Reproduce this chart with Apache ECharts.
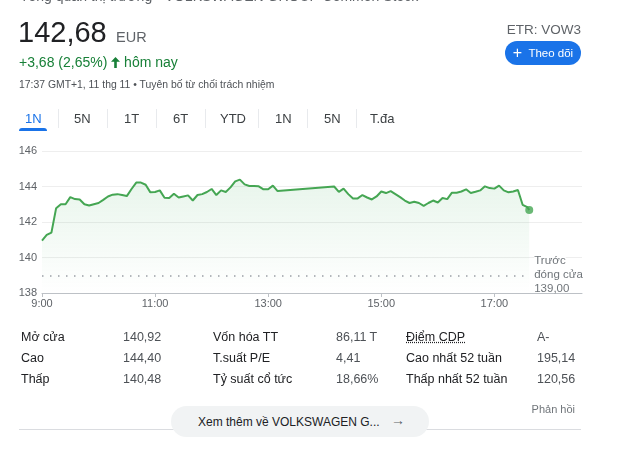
<!DOCTYPE html>
<html><head><meta charset="utf-8">
<script src="https://cdn.jsdelivr.net/npm/echarts@6/dist/echarts.min.js"></script>
<style>
html,body{margin:0;padding:0;background:#fff;width:640px;height:450px;overflow:hidden;font-family:"Liberation Sans",Arial,sans-serif;}
#chart{position:absolute;left:0;top:0;width:640px;height:450px;}
.t{position:absolute;white-space:nowrap;line-height:1;}
</style></head><body>
<div id="chart"></div>
<div class="t" style="left:20px;top:-11px;font-size:14px;color:#5f6368;">Tổng quan thị trường › VOLKSWAGEN GROUP Common Stock</div>
<div class="t" style="left:18px;top:18px;font-size:29px;color:#202124;">142,68</div>
<div class="t" style="left:116px;top:30px;font-size:14.5px;color:#5f6368;">EUR</div>
<div class="t" style="left:19px;top:55px;font-size:14px;color:#188038;">+3,68 (2,65%) <svg width="9" height="11" viewBox="0 0 9 11" style="vertical-align:-1px"><path d="M4.5 0 L9 4.8 L5.8 4.8 L5.8 11 L3.2 11 L3.2 4.8 L0 4.8 Z" fill="#188038"/></svg> hôm nay</div>
<div class="t" style="left:19px;top:80px;font-size:10.4px;color:#4d5156;">17:37 GMT+1, 11 thg 11 • Tuyên bố từ chối trách nhiệm</div>
<div class="t" style="right:59px;top:23px;font-size:13.5px;color:#5f6368;">ETR: VOW3</div>
<div class="t" style="left:505px;top:41px;width:76px;height:24px;border-radius:12px;background:#1a73e8;color:#fff;font-size:11.5px;line-height:24px;text-align:center;"><span style="font-size:16px;vertical-align:-1px;">+</span>&nbsp; Theo dõi</div>
<div id="tabs"></div>
<div id="stats"></div>
<div class="t" style="right:65px;top:404px;font-size:11px;color:#70757a;">Phản hồi</div>
<div style="position:absolute;left:19px;top:429px;width:562px;height:1px;background:#dadce0;"></div>
<div class="t" style="left:171px;top:406px;width:258px;height:31px;border-radius:16px;background:#f1f3f4;"></div>
<div class="t" style="left:198px;top:416px;font-size:12px;color:#202124;">Xem thêm về VOLKSWAGEN G...</div>
<div class="t" style="left:391px;top:413px;font-size:14px;color:#5f6368;">→</div>
<script>
// ---- data ----
var tabLabels = ['1N','5N','1T','6T','YTD','1N','5N','T.đa'];
var statLabels1 = ['Mở cửa','Cao','Thấp'];
var statValues1 = ['140,92','144,40','140,48'];
var statLabels2 = ['Vốn hóa TT','T.suất P/E','Tỷ suất cổ tức'];
var statValues2 = ['86,11 T','4,41','18,66%'];
var statLabels3 = ['Điểm CDP','Cao nhất 52 tuần','Thấp nhất 52 tuần'];
var statValues3 = ['A-','195,14','120,56'];

var times = ['9:00','9:05','9:10','9:15','9:20','9:25','9:30','9:35','9:40','9:45','9:50','9:55',
'10:00','10:05','10:10','10:15','10:20','10:25','10:30','10:35','10:40','10:45','10:50','10:55',
'11:00','11:05','11:10','11:15','11:20','11:25','11:30','11:35','11:40','11:45','11:50','11:55',
'12:00','12:05','12:10','12:15','12:20','12:25','12:30','12:35','12:40','12:45','12:50','12:55',
'13:00','13:05','13:10',
'14:10','14:15','14:20','14:25','14:30','14:35','14:40','14:45','14:50','14:55',
'15:00','15:05','15:10','15:15','15:20','15:25','15:30','15:35','15:40','15:45','15:50','15:55',
'16:00','16:05','16:10','16:15','16:20','16:25','16:30','16:35','16:40','16:45','16:50','16:55',
'17:00','17:05','17:10','17:15','17:20','17:25','17:30','17:35','17:37'];
var prices = [140.95,141.27,141.40,142.78,143.00,143.00,143.40,143.29,143.27,143.00,142.93,143.00,
143.07,143.25,143.44,143.54,143.57,143.52,143.46,143.86,144.22,144.22,144.10,143.67,
143.69,143.78,143.37,143.35,143.59,143.38,143.44,143.50,143.21,143.52,143.57,143.69,
143.86,143.52,143.78,143.69,143.95,144.29,144.39,144.12,144.03,144.03,144.01,143.84,
143.84,144.05,143.74,
144.00,143.70,143.88,143.57,143.33,143.33,143.52,143.38,143.27,143.44,
143.72,143.63,143.74,143.57,143.40,143.21,143.07,143.14,143.07,142.91,143.07,143.21,
143.10,143.35,143.29,143.65,143.65,143.72,143.84,143.63,143.70,143.78,144.01,143.91,
143.88,144.05,143.78,143.67,143.72,143.80,142.97,142.84,142.68];
var xTickLabels = ['9:00','11:00','13:00','15:00','17:00'];
var axisEnd = '18:33';
var yTicks = [138,140,142,144,146];
var prevClose = 139.00;
var prevCloseText = ['Trước','đóng cửa','139,00'];

// ---- helpers ----
function toMin(s){var p=s.split(':');return (+p[0]-9)*60+(+p[1]);}
function fmt(m){var h=9+Math.floor(m/60),mm=m%60;return h+':'+(mm<10?'0':'')+mm;}

// ---- tabs & stats (HTML) ----
var tabX=[25,74,124,173,220,275,324,370];
var tabsHtml='';
tabLabels.forEach(function(l,i){
  tabsHtml+='<div class="t" style="left:'+tabX[i]+'px;top:112px;font-size:13px;color:'+(i===0?'#1a73e8':'#3c4043')+';">'+l+'</div>';
});
[58,107,156,205,258,307,356].forEach(function(x){
  tabsHtml+='<div style="position:absolute;left:'+x+'px;top:109px;width:1px;height:19px;background:#e8eaed;"></div>';
});
tabsHtml+='<div style="position:absolute;left:19px;top:128px;width:28px;height:3px;border-radius:3px 3px 0 0;background:#1a73e8;"></div>';
document.getElementById('tabs').innerHTML=tabsHtml;
var sh='';
var cols=[[statLabels1,21,'#202124'],[statValues1,123,'#4d5156'],[statLabels2,213,'#202124'],[statValues2,336,'#4d5156'],[statLabels3,406,'#202124'],[statValues3,537,'#4d5156']];
cols.forEach(function(c,ci){
  c[0].forEach(function(txt,r){
    var ul=(ci===4&&r===0)?'text-decoration:underline;text-decoration-style:dotted;':'';
    sh+='<div class="t" style="left:'+c[1]+'px;top:'+(331+r*21)+'px;font-size:12.5px;color:'+c[2]+';'+ul+'">'+txt+'</div>';
  });
});
document.getElementById('stats').innerHTML=sh;

// ---- chart ----
var seriesData = times.map(function(t,i){return [toMin(t),prices[i]];});
var last = seriesData[seriesData.length-1];
var tickVals = xTickLabels.map(toMin);
var chart = echarts.init(document.getElementById('chart'),null,{renderer:'canvas'});
chart.setOption({
  animation:false,
  grid:{left:42,right:58,top:151,bottom:157},
  xAxis:{type:'value',min:0,max:toMin(axisEnd),
    axisLine:{show:true,lineStyle:{color:'#bdc1c6',width:1}},
    axisTick:{show:true,customValues:tickVals,length:4,lineStyle:{color:'#bdc1c6'}},
    axisLabel:{customValues:tickVals,formatter:function(v){return fmt(v);},color:'#5f6368',fontSize:11,margin:5,fontFamily:'Liberation Sans, Arial'},
    splitLine:{show:false}},
  yAxis:{type:'value',min:yTicks[0],max:yTicks[yTicks.length-1],interval:2,
    axisLine:{show:false},axisTick:{show:false},
    axisLabel:{color:'#5f6368',fontSize:11,margin:5,fontFamily:'Liberation Sans, Arial'},
    splitLine:{lineStyle:{color:'#eeeeee',width:1}}},
  series:[{
    type:'line',data:seriesData,showSymbol:false,symbol:'none',
    lineStyle:{color:'#45a653',width:2},
    areaStyle:{origin:'start',color:new echarts.graphic.LinearGradient(0,0,0,1,[{offset:0,color:'rgba(52,168,83,0.16)'},{offset:1,color:'rgba(52,168,83,0)'}])},
    markLine:{silent:true,symbol:['none','none'],
      lineStyle:{type:[1.5,6.5],color:'#9aa0a6',width:1.5},
      label:{show:true,position:'end',distance:5,
        formatter:'{a|'+prevCloseText[0]+'}\n{b|'+prevCloseText[1]+'}\n{b|'+prevCloseText[2]+'}',
        rich:{a:{color:'#70757a',fontSize:11.5,lineHeight:14,backgroundColor:'#fff',fontFamily:'Liberation Sans, Arial'},
              b:{color:'#70757a',fontSize:11.5,lineHeight:14,fontFamily:'Liberation Sans, Arial'}}},
      data:[[{coord:[0,prevClose]},{coord:[last[0],prevClose]}]]}
  },{
    type:'scatter',data:[last],symbol:'circle',symbolSize:8,itemStyle:{color:'#45a653'},z:5
  }]
});
</script>
</body></html>
